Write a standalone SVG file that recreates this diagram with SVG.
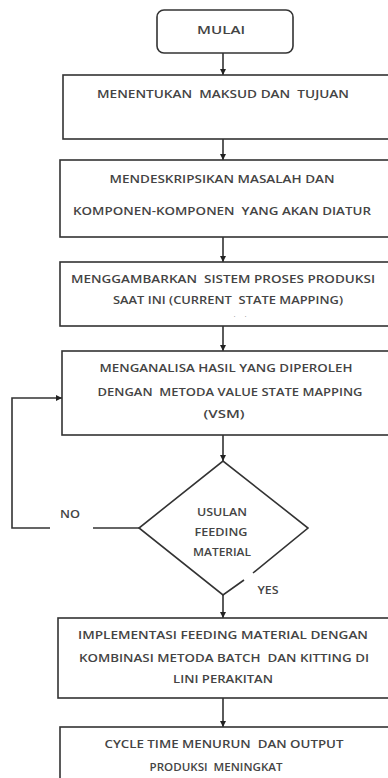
<svg xmlns="http://www.w3.org/2000/svg" width="388" height="778" viewBox="0 0 388 778">
<style>
.box{fill:#fff;stroke:#333;stroke-width:1.6}
.ln{fill:none;stroke:#333;stroke-width:1.6}
.t{font-family:"Open Sans","Liberation Sans",Arial,sans-serif;font-size:11.5px;font-weight:600;fill:#444;text-anchor:middle;dominant-baseline:central}
</style>
<defs>
<marker id="ah" viewBox="0 0 10 10" refX="10" refY="5" markerWidth="6" markerHeight="6" orient="auto" markerUnits="userSpaceOnUse">
<path d="M0,0 L10,5 L0,10 z" fill="#222"/>
</marker>
</defs>
<rect width="388" height="778" fill="#fff"/>
<g id="connectors">
<line class="ln" x1="223" y1="53" x2="223" y2="75" marker-end="url(#ah)"/>
<line class="ln" x1="223" y1="139" x2="223" y2="160" marker-end="url(#ah)"/>
<line class="ln" x1="223" y1="237" x2="223" y2="262" marker-end="url(#ah)"/>
<line class="ln" x1="223" y1="326" x2="223" y2="351" marker-end="url(#ah)"/>
<line class="ln" x1="223" y1="435" x2="223" y2="461" marker-end="url(#ah)"/>
<line class="ln" x1="223" y1="595" x2="223" y2="618" marker-end="url(#ah)"/>
<line class="ln" x1="223" y1="698" x2="223" y2="727" marker-end="url(#ah)"/>
<line class="ln" x1="139" y1="528" x2="93" y2="528"/>
<polyline class="ln" points="50,528 12,528 12,398 62,398" marker-end="url(#ah)"/>
<text class="t" x="70" y="513" textLength="20" lengthAdjust="spacingAndGlyphs">NO</text>
<text class="t" x="268" y="589" textLength="21" lengthAdjust="spacingAndGlyphs">YES</text>
</g>
<g id="mulai">
<rect class="box" x="157" y="10" width="136" height="43" rx="7" stroke-width="2.2"/>
<text class="t" x="221" y="29" textLength="48" lengthAdjust="spacingAndGlyphs">MULAI</text>
</g>
<g id="n1">
<rect class="box" x="63" y="75" width="340" height="64"/>
<text class="t" x="223" y="93" xml:space="preserve" textLength="252" lengthAdjust="spacingAndGlyphs">MENENTUKAN  MAKSUD DAN  TUJUAN</text>
</g>
<g id="n2">
<rect class="box" x="60" y="160" width="340" height="77"/>
<text class="t" x="222" y="178" textLength="225" lengthAdjust="spacingAndGlyphs">MENDESKRIPSIKAN MASALAH DAN</text>
<text class="t" x="222" y="210" xml:space="preserve" textLength="298" lengthAdjust="spacingAndGlyphs">KOMPONEN-KOMPONEN  YANG AKAN DIATUR</text>
</g>
<g id="n3">
<rect class="box" x="60" y="262" width="340" height="64"/>
<text class="t" x="223" y="278" xml:space="preserve" textLength="304" lengthAdjust="spacingAndGlyphs">MENGGAMBARKAN  SISTEM PROSES PRODUKSI</text>
<text class="t" x="228" y="299" xml:space="preserve" textLength="230" lengthAdjust="spacingAndGlyphs">SAAT INI (CURRENT  STATE MAPPING)</text>
<text class="t" x="240" y="316" style="font-size:6px;fill:#777" xml:space="preserve">·      ·</text>
</g>
<g id="n4">
<rect class="box" x="62" y="351" width="340" height="84"/>
<text class="t" x="226" y="367" textLength="253" lengthAdjust="spacingAndGlyphs">MENGANALISA HASIL YANG DIPEROLEH</text>
<text class="t" x="230" y="391" xml:space="preserve" textLength="265" lengthAdjust="spacingAndGlyphs">DENGAN  METODA VALUE STATE MAPPING</text>
<text class="t" x="224" y="413" textLength="41" lengthAdjust="spacingAndGlyphs">(VSM)</text>
</g>
<g id="decision">
<path class="ln" d="M253,573 L308,528 L223,461 L139,528 L223,595 L244,580"/>
<text class="t" x="222" y="511" textLength="50" lengthAdjust="spacingAndGlyphs">USULAN</text>
<text class="t" x="221" y="531" textLength="53" lengthAdjust="spacingAndGlyphs">FEEDING</text>
<text class="t" x="222" y="551" textLength="58" lengthAdjust="spacingAndGlyphs">MATERIAL</text>
</g>
<g id="n5">
<rect class="box" x="58" y="618" width="342" height="80"/>
<text class="t" x="223" y="634" textLength="290" lengthAdjust="spacingAndGlyphs">IMPLEMENTASI FEEDING MATERIAL DENGAN</text>
<text class="t" x="224" y="657" xml:space="preserve" textLength="290" lengthAdjust="spacingAndGlyphs">KOMBINASI METODA BATCH  DAN KITTING DI</text>
<text class="t" x="223" y="678" textLength="100" lengthAdjust="spacingAndGlyphs">LINI PERAKITAN</text>
</g>
<g id="n6">
<rect class="box" x="60" y="727" width="340" height="70"/>
<text class="t" x="224" y="743" xml:space="preserve" textLength="239" lengthAdjust="spacingAndGlyphs">CYCLE TIME MENURUN  DAN OUTPUT</text>
<text class="t" x="216" y="766" xml:space="preserve" textLength="133" lengthAdjust="spacingAndGlyphs">PRODUKSI  MENINGKAT</text>
</g>
</svg>
